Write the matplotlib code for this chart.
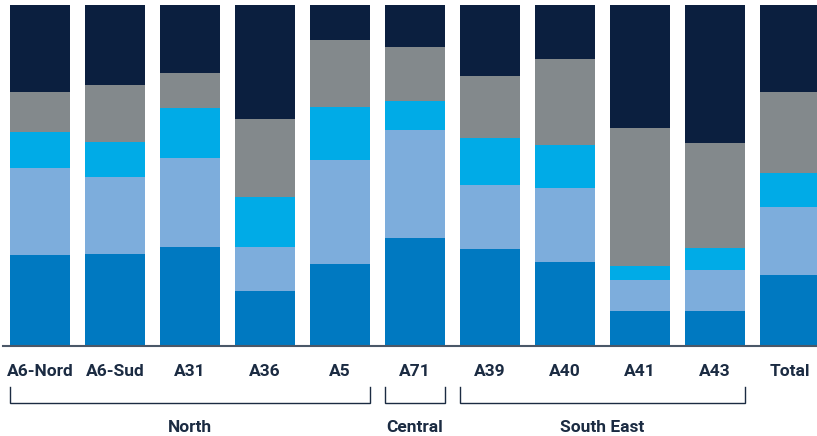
import numpy as np
import matplotlib
matplotlib.use("Agg")
import matplotlib.pyplot as plt

# Data (share of each segment, percent)
roads = ['A6-Nord', 'A6-Sud', 'A31', 'A36', 'A5', 'A71', 'A39', 'A40', 'A41', 'A43', 'Total']
seg1 = [26.6, 26.9, 29.0, 16.0, 24.0, 31.6, 28.4, 24.6, 10.2, 10.2, 20.7]
seg2 = [25.5, 22.6, 26.1, 12.9, 30.5, 31.7, 18.8, 21.7, 9.1, 12.0, 20.0]
seg3 = [10.6, 10.3, 14.8, 14.7, 15.6, 8.5, 13.9, 12.6, 4.2, 6.6, 10.0]
seg4 = [11.7, 16.7, 10.2, 22.9, 19.7, 15.9, 18.1, 25.2, 40.4, 30.7, 23.8]
seg5 = [25.5, 23.5, 20.0, 33.5, 10.3, 12.3, 20.8, 15.9, 36.1, 40.5, 25.5]

groups = ['North', 'Central', 'South East']
group_first = [0, 5, 6]
group_last = [4, 5, 9]

colors = ['#0079c1', '#7dadDC', '#00abe7', '#83898c', '#0b1f3f']
text_color = '#1b2b42'

plt.rcParams['font.family'] = ['Roboto', 'DejaVu Sans']

fig = plt.figure(figsize=(8.17, 4.36), dpi=100)
ax = fig.add_axes([2.5 / 817, 1 - 346 / 436, 1 - 2.5 / 817, 341 / 436])

x = np.arange(len(roads))
width = 0.8
bottom = np.zeros(len(roads))
total = np.array(seg1) + seg2 + seg3 + seg4 + seg5
for vals, c in zip([seg1, seg2, seg3, seg4, seg5], colors):
    share = np.array(vals) / total * 100
    ax.bar(x, share, width, bottom=bottom, color=c, linewidth=0)
    bottom += share

ax.set_xlim(-0.5, 10.36)
ax.set_ylim(0, 100)
for s in ['top', 'right', 'left']:
    ax.spines[s].set_visible(False)
ax.spines['bottom'].set_color('#4b5868')
ax.spines['bottom'].set_linewidth(1.5)
ax.set_yticks([])
ax.set_xticks(x)
ax.set_xticklabels(roads, fontsize=12.5, fontweight='bold', color=text_color)
ax.tick_params(axis='x', length=0, pad=13)

# group brackets under the tick labels
trans = ax.get_xaxis_transform()
y_top = -41 / 341
y_bot = -57 / 341
for name, a, b in zip(groups, group_first, group_last):
    x0 = a - width / 2
    x1 = b + width / 2
    ax.plot([x0, x0, x1, x1], [y_top, y_bot, y_bot, y_top], color=text_color,
            lw=1.0, transform=trans, clip_on=False, solid_joinstyle='miter')
    ax.text((x0 + x1) / 2, -81 / 341, name, transform=trans, ha='center', va='center',
            fontsize=12.5, fontweight='bold', color=text_color)

fig.savefig('out.png', dpi=100)
